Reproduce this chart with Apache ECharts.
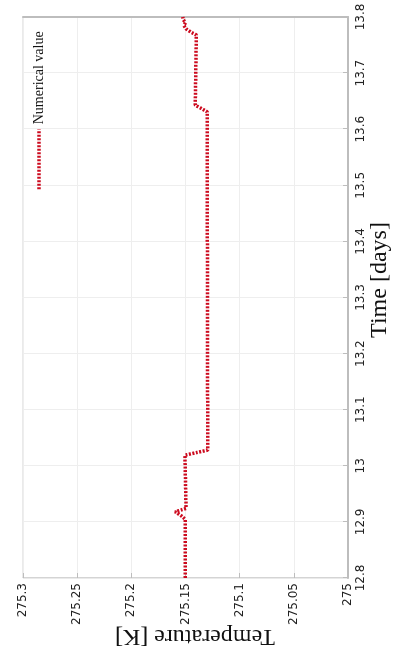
<!DOCTYPE html>
<html>
<head>
<meta charset="utf-8">
<script src="https://cdn.jsdelivr.net/npm/echarts@6/dist/echarts.min.js"></script>
<style>
  html, body { margin: 0; padding: 0; width: 394px; height: 657px; overflow: hidden; background: #fff; }
  /* The chart is laid out landscape and turned a quarter turn counter-clockwise */
  #chart {
    position: absolute; left: 0; top: 0;
    width: 657px; height: 394px;
    transform-origin: 0 0;
    transform: translate(0, 657px) rotate(-90deg);
  }
</style>
</head>
<body>
<div id="chart"></div>
<script>
// Time in days
const times = [12.8, 12.905, 12.911, 12.918, 12.924, 13.019, 13.028, 13.631, 13.643,
               13.768, 13.773, 13.779, 13.785, 13.790, 13.795, 13.8];
// Temperature in kelvin
const temps = [275.1503, 275.1503, 275.1540, 275.1595, 275.1495, 275.1505, 275.1295, 275.1300, 275.1410,
               275.1400, 275.1450, 275.1495, 275.1515, 275.1500, 275.1520, 275.1525];
const seriesName = 'Numerical value';
const timeTicks = { min: 12.8, max: 13.8, step: 0.1 };
const tempTicks = { min: 275, max: 275.3, step: 0.05 };

const chart = echarts.init(document.getElementById('chart'), null, { renderer: 'canvas' });
const fmt = v => String(parseFloat(v.toFixed(2)));
const tickFont = { fontFamily: 'DejaVu Sans', fontSize: 12, color: '#222' };
const serif = 'Liberation Serif';
const red = '#cc0a1e';
const dash = [2, 1.5];

chart.setOption({
  animation: false,
  backgroundColor: '#fff',
  grid: {
    left: 79, right: 17, top: 23, bottom: 46,
    containLabel: false, outerBoundsMode: 'none',
    show: true, borderColor: '#d4d4d4', borderWidth: 1
  },
  legend: {
    left: 461, top: 27,
    itemWidth: 60, itemHeight: 14, itemGap: 5,
    itemStyle: { opacity: 0 },
    lineStyle: { color: red, width: 3.5, type: dash, cap: 'butt' },
    textStyle: { fontFamily: serif, fontSize: 14, color: '#111' },
    data: [seriesName]
  },
  xAxis: {
    type: 'value',
    min: timeTicks.min, max: timeTicks.max, interval: timeTicks.step,
    name: 'Time [days]', nameLocation: 'middle', nameGap: 20, nameMoveOverlap: false,
    nameTextStyle: { fontFamily: serif, fontSize: 24, color: '#111', padding: [0, 0, 0, 35] },
    axisLine: { show: true, lineStyle: { color: '#bdbdbd', width: 2 } },
    axisTick: { show: true, inside: true, length: 5, lineStyle: { color: '#bdbdbd' } },
    axisLabel: Object.assign({ margin: 7, formatter: fmt }, tickFont),
    splitLine: { show: true, lineStyle: { color: '#eeeeee', width: 1 } }
  },
  yAxis: [{
    type: 'value',
    min: tempTicks.min, max: tempTicks.max, interval: tempTicks.step,
    name: 'Temperature [K]', nameLocation: 'middle', nameGap: 46, nameMoveOverlap: false,
    nameTextStyle: { fontFamily: serif, fontSize: 24, color: '#111', padding: [0, 19, 0, 0] },
    axisLine: { show: true, lineStyle: { color: '#d4d4d4', width: 1 } },
    axisTick: { show: true, inside: true, length: 5, lineStyle: { color: '#bdbdbd' } },
    axisLabel: Object.assign({ margin: 5, formatter: fmt }, tickFont),
    splitLine: { show: true, lineStyle: { color: '#eeeeee', width: 1 } }
  }, {
    type: 'value', position: 'right',
    min: tempTicks.min, max: tempTicks.max, interval: tempTicks.step,
    axisLine: { show: true, lineStyle: { color: '#bdbdbd', width: 2 } },
    axisTick: { show: false }, axisLabel: { show: false }, splitLine: { show: false }
  }],
  series: [{
    name: seriesName,
    type: 'line',
    yAxisIndex: 0,
    symbol: 'none',
    data: times.map((t, i) => [t, temps[i]]),
    lineStyle: { color: red, width: 3.5, type: dash, cap: 'butt' },
    itemStyle: { color: red }
  }]
});
</script>
</body>
</html>
